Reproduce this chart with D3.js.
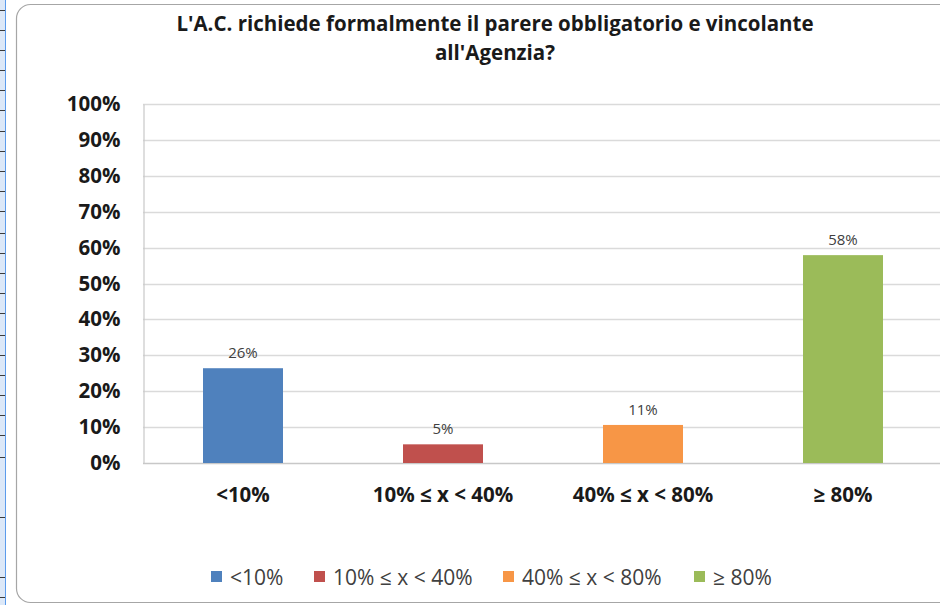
<!DOCTYPE html>
<html>
<head>
<meta charset="utf-8">
<script src="https://cdn.jsdelivr.net/npm/d3@7"></script>
<style>
  html, body { margin: 0; padding: 0; background: #fff; }
  svg { display: block; font-family: "Open Sans", sans-serif; }
</style>
</head>
<body>
<svg id="chart" width="940" height="605"></svg>
<script>
// data
const categories = ["<10%", "10% \u2264 x < 40%", "40% \u2264 x < 80%", "\u2265 80%"];
const values = [26.4, 5.2, 10.6, 57.9];
const colors = ["#4f81bd", "#c0504d", "#f79646", "#9bbb59"];
const yTicks = [0, 10, 20, 30, 40, 50, 60, 70, 80, 90, 100];
const titleLines = ["L'A.C. richiede formalmente il parere obbligatorio e vincolante", "all'Agenzia?"];

let svg = d3.select("#chart"),
  width = 940,
  height = 605,
  plot = { left: 143, right: 943, top: 104, bottom: 463 };

// spreadsheet strip on the left edge
svg.append("rect").attr("x", 0).attr("y", 0).attr("width", 5).attr("height", height).attr("fill", "#dce8f8");
svg.append("line").attr("x1", 5.5).attr("x2", 5.5).attr("y1", 0).attr("y2", height).attr("stroke", "#5b9bec").attr("stroke-width", 1);
[10, 30, 50, 70, 90, 110, 131, 151, 171, 191, 211, 233, 253, 273, 293, 313, 335, 355, 375, 395, 415, 435, 457, 517, 577, 597].forEach((y) => {
  svg.append("line").attr("x1", 0).attr("x2", 5).attr("y1", y + 0.5).attr("y2", y + 0.5).attr("stroke", "#3a3a3a");
});

// chart frame (rounded, runs off the right edge)
svg.append("rect")
  .attr("x", 16.5).attr("y", 4.5)
  .attr("width", 1000).attr("height", 598)
  .attr("rx", 14)
  .attr("fill", "#fff")
  .attr("stroke", "#a6a6a6")
  .attr("stroke-width", 1.2);

// title
svg.append("text")
  .attr("x", 495)
  .attr("y", 31)
  .attr("text-anchor", "middle")
  .attr("font-weight", "bold")
  .attr("font-size", "20.5px")
  .attr("fill", "#1a1a1a")
  .selectAll("tspan")
  .data(titleLines)
  .enter()
  .append("tspan")
  .attr("x", 495)
  .attr("dy", (d, i) => (i == 0 ? 0 : 29))
  .text((d) => d);

let x = d3.scaleBand().domain(categories).range([plot.left, plot.right]).paddingInner(0.6).paddingOuter(0.3);
let y = d3.scaleLinear().domain([0, 100]).range([plot.bottom, plot.top]);

// gridlines
svg.append("g")
  .selectAll("line")
  .data(yTicks)
  .enter()
  .append("line")
  .attr("x1", plot.left)
  .attr("x2", width)
  .attr("y1", (d) => Math.round(y(d)) + 0.5)
  .attr("y2", (d) => Math.round(y(d)) + 0.5)
  .attr("stroke", (d) => (d == 0 ? "#c8c8c8" : "#dadada"))
  .attr("stroke-width", 1.5);

// y axis
let yAxis = svg.append("g")
  .attr("transform", "translate(" + (plot.left + 0.5) + ",0)")
  .call(d3.axisLeft(y).tickValues(yTicks).tickSize(0).tickPadding(23).tickFormat((d) => d + "%"));
yAxis.select(".domain").attr("stroke", "#c8c8c8").attr("stroke-width", 1.2);
yAxis.selectAll("text")
  .attr("font-family", "'Open Sans', sans-serif")
  .attr("font-size", "20.5px")
  .attr("font-weight", "bold")
  .attr("fill", "#1a1a1a");

// bars
svg.append("g")
  .selectAll("rect")
  .data(values)
  .enter()
  .append("rect")
  .attr("x", (d, i) => x(categories[i]))
  .attr("y", (d) => y(d))
  .attr("width", x.bandwidth())
  .attr("height", (d) => y(0) - y(d))
  .attr("fill", (d, i) => colors[i]);

// value labels
svg.append("g")
  .selectAll("text")
  .data(values)
  .enter()
  .append("text")
  .attr("x", (d, i) => x(categories[i]) + x.bandwidth() / 2)
  .attr("y", (d) => y(d) - 10)
  .attr("text-anchor", "middle")
  .attr("font-size", "15px")
  .attr("fill", "#404040")
  .text((d) => Math.round(d) + "%");

// category labels
svg.append("g")
  .selectAll("text")
  .data(categories)
  .enter()
  .append("text")
  .attr("x", (d) => x(d) + x.bandwidth() / 2)
  .attr("y", 502)
  .attr("text-anchor", "middle")
  .attr("font-size", "20.5px")
  .attr("font-weight", "bold")
  .attr("fill", "#1a1a1a")
  .text((d) => d);

// legend
let legendX = [211, 314, 503, 694];
let legend = svg.append("g")
  .selectAll("g")
  .data(categories)
  .enter()
  .append("g")
  .attr("transform", (d, i) => "translate(" + legendX[i] + ",571)");
legend.append("rect")
  .attr("width", 11)
  .attr("height", 11)
  .attr("fill", (d, i) => colors[i]);
legend.append("text")
  .attr("x", 19)
  .attr("y", 14)
  .attr("font-size", "21px")
  .attr("fill", "#404040")
  .text((d) => d);
</script>
</body>
</html>
